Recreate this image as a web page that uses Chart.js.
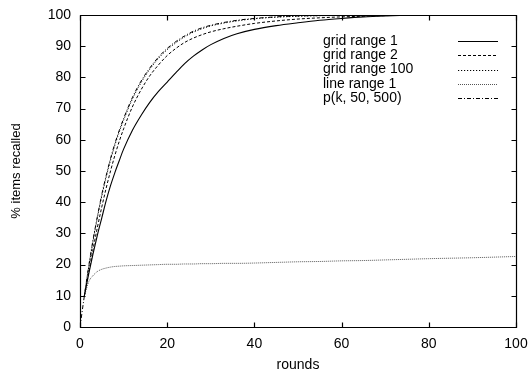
<!DOCTYPE html>
<html>
<head>
<meta charset="utf-8">
<script src="https://cdn.jsdelivr.net/npm/chart.js@4/dist/chart.umd.min.js"></script>
<style>
  html, body { margin: 0; padding: 0; background: #fff; }
  #c { display: block; }
</style>
</head>
<body>
<canvas id="c" width="529" height="372"></canvas>
<script>
// ---- data ----
const rounds       = [0, 1, 2, 3, 4, 5, 6, 7, 8, 9, 10, 12, 14, 16, 18, 20, 22, 24, 26, 28, 30, 33, 36, 40, 45, 50, 55, 60, 65, 70, 75, 80, 90, 100];
const gridRange1   = [null, 10, 17, 23.5, 29.5, 35, 40.5, 45.3, 49.5, 53.3, 57, 63, 67.8, 72, 75.5, 78.5, 81.5, 84.4, 86.8, 88.8, 90.5, 92.5, 94, 95.4, 96.6, 97.5, 98.3, 98.9, 99.4, 99.7, 99.9, 100, 100, 100];
const gridRange2   = [null, 10, 17.5, 25, 32, 38.5, 44.5, 50, 55, 59.5, 63.5, 70.5, 76, 80.5, 84, 87, 89.3, 91.2, 92.6, 93.7, 94.6, 95.6, 96.4, 97.3, 98.1, 98.7, 99.1, 99.4, 99.6, 99.8, 99.9, 100, 100, 100];
const gridRange100 = [null, 10, 19.2, 27.6, 35.1, 42, 48, 53.5, 58.3, 62.5, 66.3, 73, 78.3, 82.6, 86.1, 88.9, 91.1, 93, 94.5, 95.6, 96.5, 97.4, 98.1, 98.8, 99.3, 99.6, 99.8, 99.9, 100, 100, 100, 100, 100, 100];
const lineRange1   = [null, 10, 14.5, 16.5, 17.8, 18.5, 18.9, 19.2, 19.4, 19.5, 19.6, 19.7, 19.8, 19.9, 20, 20.1, 20.1, 20.2, 20.2, 20.3, 20.3, 20.4, 20.4, 20.5, 20.7, 20.9, 21, 21.2, 21.3, 21.5, 21.7, 21.9, 22.2, 22.6];
const pK           = [0, 10, 19.5, 28, 35.5, 42.5, 48.5, 54, 58.8, 63, 66.8, 73.5, 78.8, 83, 86.5, 89.3, 91.5, 93.3, 94.8, 95.9, 96.7, 97.6, 98.3, 98.9, 99.4, 99.7, 99.8, 99.9, 100, 100, 100, 100, 100, 100];
const seriesNames  = ["grid range 1", "grid range 2", "grid range 100", "line range 1", "p(k, 50, 500)"];
const xTitle = "rounds";
const yTitle = "% items recalled";

const FONT = "'Liberation Sans', Arial, Helvetica, sans-serif";

function pts(vals) {
  return rounds.map((r, i) => ({ x: r, y: vals[i] }));
}

const styles = [
  { borderColor: '#000', borderWidth: 1.1, borderDash: [] },
  { borderColor: '#000', borderWidth: 1, borderDash: [3, 2] },
  { borderColor: '#000', borderWidth: 1, borderDash: [1.2, 1.8] },
  { borderColor: '#555', borderWidth: 1, borderDash: [1, 1] },
  { borderColor: '#000', borderWidth: 1, borderDash: [4, 2, 1, 2] }
];
const seriesVals = [gridRange1, gridRange2, gridRange100, lineRange1, pK];

const datasets = seriesVals.map((v, i) => Object.assign({
  label: seriesNames[i],
  data: pts(v),
  pointRadius: 0,
  fill: false,
  cubicInterpolationMode: 'monotone',
  spanGaps: false
}, styles[i]));

// border, inward mirrored ticks and key, drawn via the chart's scales
const framePlugin = {
  id: 'frame',
  afterDatasetsDraw(chart) {
    const ctx = chart.ctx;
    const a = chart.chartArea;
    const xs = chart.scales.x, ys = chart.scales.y;
    const L = Math.round(a.left) + 0.5, R = Math.round(a.right) + 0.5;
    const T = Math.round(a.top) + 0.5, B = Math.round(a.bottom) + 0.5;
    ctx.save();
    ctx.strokeStyle = '#000';
    ctx.lineWidth = 1.2;
    ctx.setLineDash([]);
    ctx.beginPath();
    ctx.rect(L, T, R - L, B - T);
    ctx.stroke();
    const tl = 5;
    ctx.beginPath();
    xs.ticks.forEach(t => {
      const px = Math.round(xs.getPixelForValue(t.value)) + 0.5;
      ctx.moveTo(px, B); ctx.lineTo(px, B - tl);
      ctx.moveTo(px, T); ctx.lineTo(px, T + tl);
    });
    ys.ticks.forEach(t => {
      const py = Math.round(ys.getPixelForValue(t.value)) + 0.5;
      ctx.moveTo(L, py); ctx.lineTo(L + tl, py);
      ctx.moveTo(R, py); ctx.lineTo(R - tl, py);
    });
    ctx.stroke();

    // key
    ctx.font = '14px ' + FONT;
    ctx.fillStyle = '#000';
    ctx.textAlign = 'left';
    ctx.textBaseline = 'middle';
    const rowY0 = 41, rowH = 14.3, textX = 323, lx0 = 458, lx1 = 498;
    chart.data.datasets.forEach((ds, i) => {
      const y = rowY0 + i * rowH;
      ctx.fillText(ds.label, textX, y);
      ctx.save();
      ctx.strokeStyle = ds.borderColor;
      ctx.lineWidth = ds.borderWidth;
      ctx.setLineDash(ds.borderDash || []);
      ctx.beginPath();
      ctx.moveTo(lx0, Math.round(y) + 0.5);
      ctx.lineTo(lx1, Math.round(y) + 0.5);
      ctx.stroke();
      ctx.restore();
    });
    ctx.restore();
  }
};

new Chart(document.getElementById('c'), {
  type: 'line',
  data: { datasets },
  options: {
    responsive: false,
    animation: false,
    devicePixelRatio: 1,
    layout: { padding: { left: 0, right: 13, top: 15, bottom: 0 } },
    plugins: { legend: { display: false }, tooltip: { enabled: false } },
    scales: {
      x: {
        type: 'linear',
        min: 0, max: 100,
        border: { display: false },
        grid: { display: false, drawTicks: false },
        ticks: { stepSize: 20, padding: 9, color: '#000', font: { family: FONT, size: 14 }, maxRotation: 0 },
        title: { display: true, text: xTitle, color: '#000', font: { family: FONT, size: 14, lineHeight: 1 }, padding: { top: 0, bottom: 0 } },
        afterFit(s) { s.height = 45; s.paddingLeft = 0; s.paddingRight = 0; }
      },
      y: {
        type: 'linear',
        min: 0, max: 100,
        border: { display: false },
        grid: { display: false, drawTicks: false },
        ticks: { stepSize: 10, padding: 9, color: '#000', font: { family: FONT, size: 14 } },
        title: { display: true, text: yTitle, color: '#000', font: { family: FONT, size: 13, lineHeight: 1 }, padding: { top: 9.5, bottom: 0 } },
        afterFit(s) { s.width = 80; s.paddingTop = 0; s.paddingBottom = 0; }
      }
    }
  },
  plugins: [framePlugin]
});
</script>
</body>
</html>
